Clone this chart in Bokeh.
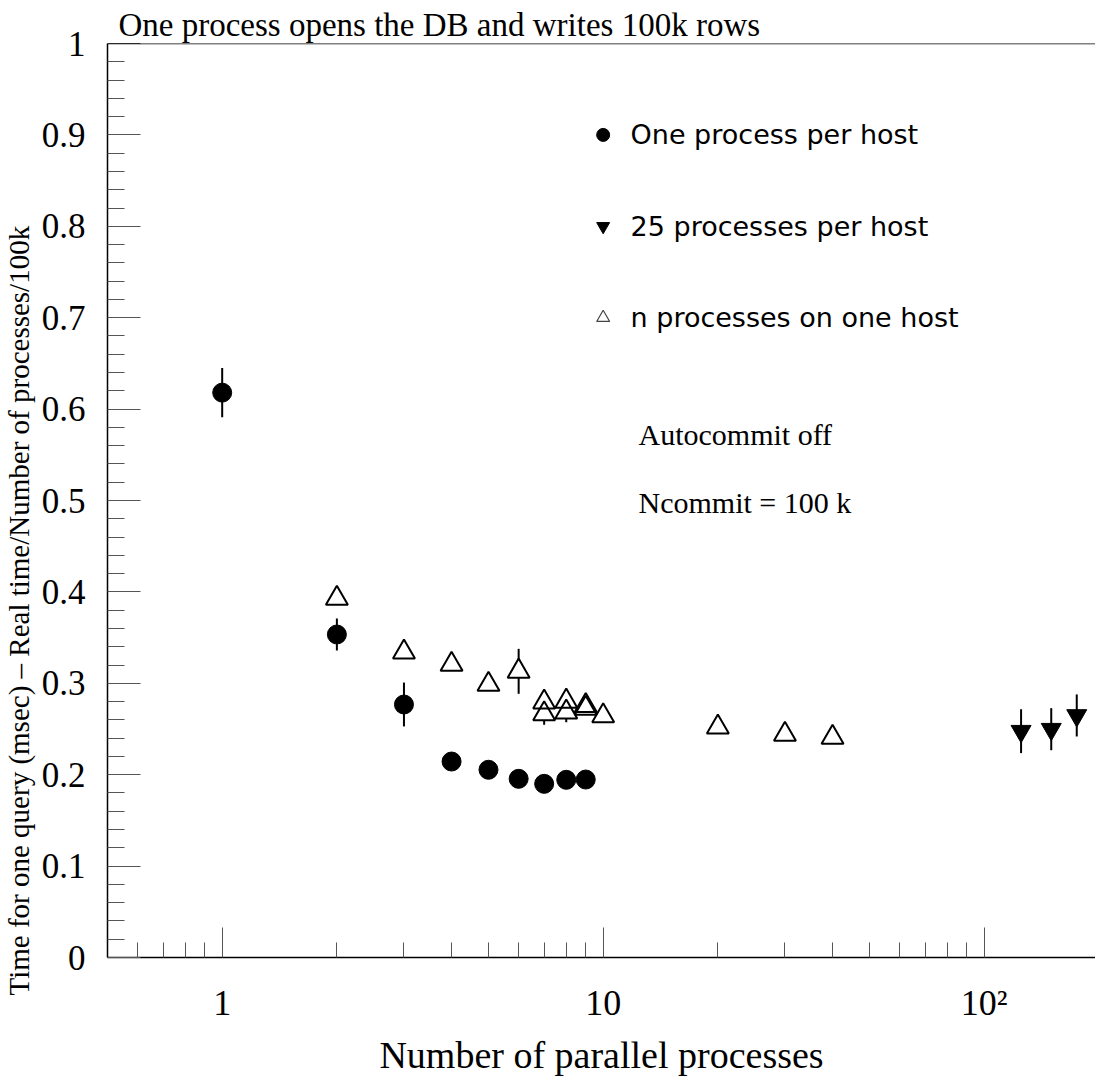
from bokeh.plotting import figure
from bokeh.models import Range1d, FixedTicker, Label, Span, Title
from bokeh.embed import file_html
from bokeh.resources import INLINE

# ---------------- data ----------------
title_text = "One process opens the DB and writes 100k rows"
x_label = "Number of parallel processes"
y_label = "Time for one query (msec) \u2013 Real time/Number of processes/100k"

# One process per host (filled circles)
one_x = [1, 2, 3, 4, 5, 6, 7, 8, 9]
one_y = [0.618, 0.3534, 0.2768, 0.2144, 0.2054, 0.1955, 0.1900, 0.1944, 0.1947]
one_err = [0.027, 0.0175, 0.024, 0, 0, 0, 0, 0, 0]

# n processes on one host (open triangles)
n_x = [2, 3, 4, 5, 6, 7, 7, 8, 8, 9, 9, 10, 20, 30, 40]
n_y = [0.3928, 0.334, 0.3206, 0.2987, 0.3131, 0.2793, 0.2666, 0.2803, 0.2684,
       0.2755, 0.2725, 0.2644, 0.2520, 0.2440, 0.2407]
n_err = [0, 0, 0, 0, 0.0246, 0, 0.012, 0, 0.011, 0, 0, 0, 0, 0, 0]

# 25 processes per host (filled down triangles)
many_x = [125, 150, 175]
many_y = [0.2476, 0.2498, 0.2648]
many_err = [0.024, 0.023, 0.023]

legend_labels = ["One process per host", "25 processes per host", "n processes on one host"]
legend_y = [0.9, 0.8, 0.7]
notes = ["Autocommit off", "Ncommit = 100 k"]
notes_y = [0.5722, 0.4978]

x_major = [1, 10, 100]
x_major_labels = ["1", "10", "10\u00b2"]
x_minor = [0.6, 0.7, 0.8, 0.9, 2, 3, 4, 5, 6, 7, 8, 9, 20, 30, 40, 50, 60, 70, 80, 90]
y_major = [0, 0.1, 0.2, 0.3, 0.4, 0.5, 0.6, 0.7, 0.8, 0.9, 1]
y_major_labels = ["0", "0.1", "0.2", "0.3", "0.4", "0.5", "0.6", "0.7", "0.8", "0.9", "1"]
y_minor = [0.02, 0.04, 0.06, 0.08, 0.12, 0.14, 0.16, 0.18, 0.22, 0.24, 0.26, 0.28,
           0.32, 0.34, 0.36, 0.38, 0.42, 0.44, 0.46, 0.48, 0.52, 0.54, 0.56, 0.58,
           0.62, 0.64, 0.66, 0.68, 0.72, 0.74, 0.76, 0.78, 0.82, 0.84, 0.86, 0.88,
           0.92, 0.94, 0.96, 0.98]

SERIF = "Liberation Serif"
SANS = "DejaVu Sans"

p = figure(width=1095, height=1080, x_axis_type="log",
           x_range=Range1d(0.5, 196), y_range=Range1d(0, 1),
           output_backend="svg", toolbar_location=None, title=None)
p.min_border_left = 107
p.min_border_right = 0
p.min_border_top = 43
p.min_border_bottom = 123
p.outline_line_color = None
p.xgrid.visible = False
p.ygrid.visible = False
p.background_fill_color = "white"
p.border_fill_color = "white"

# title above the frame
p.add_layout(Title(text=title_text, align="left", offset=11, standoff=2,
                   text_font=SERIF, text_font_size="33px", text_font_style="normal",
                   text_color="black", vertical_align="bottom"), "above")

# top frame line
p.add_layout(Span(location=1, dimension="width", line_color="black", line_width=1.5))

# axes
xa = p.xaxis[0]
xa.ticker = FixedTicker(ticks=x_major, minor_ticks=x_minor)
xa.major_label_overrides = {t: l for t, l in zip(x_major, x_major_labels)}
xa.axis_line_color = "black"
xa.axis_line_width = 1.5
xa.major_tick_in = 30
xa.major_tick_out = 0
xa.minor_tick_in = 15
xa.minor_tick_out = 0
xa.major_tick_line_color = "#555555"
xa.minor_tick_line_color = "#555555"
xa.major_label_standoff = 25
xa.major_label_text_font = SERIF
xa.major_label_text_font_size = "36px"
xa.major_label_text_color = "black"
xa.axis_label = x_label
xa.axis_label_text_font = SERIF
xa.axis_label_text_font_size = "38px"
xa.axis_label_text_font_style = "normal"
xa.axis_label_text_color = "black"
xa.axis_label_standoff = 8

ya = p.yaxis[0]
ya.ticker = FixedTicker(ticks=y_major, minor_ticks=y_minor)
ya.major_label_overrides = {t: l for t, l in zip(y_major, y_major_labels)}
ya.axis_line_color = "black"
ya.axis_line_width = 1.5
ya.major_tick_in = 33
ya.major_tick_out = 0
ya.minor_tick_in = 17
ya.minor_tick_out = 0
ya.major_tick_line_color = "#555555"
ya.minor_tick_line_color = "#555555"
ya.major_label_standoff = 22
ya.major_label_text_font = SERIF
ya.major_label_text_font_size = "35px"
ya.major_label_text_color = "black"

# y axis title, placed as a vertical title left of the tick labels
p.add_layout(Title(text=y_label, align="left", offset=-38, standoff=4,
                   text_font=SERIF, text_font_size="29px", text_font_style="normal",
                   text_color="black", vertical_align="top"), "left")

# error bars
def bars(xs, ys, es):
    sel = [(x, y, e) for x, y, e in zip(xs, ys, es) if e > 0]
    if sel:
        p.segment(x0=[s[0] for s in sel], y0=[s[1] - s[2] for s in sel],
                  x1=[s[0] for s in sel], y1=[s[1] + s[2] for s in sel],
                  line_color="black", line_width=2)

bars(one_x, one_y, one_err)
bars(n_x, n_y, n_err)
bars(many_x, many_y, many_err)

# markers
p.scatter(one_x, one_y, marker="circle", size=19, fill_color="black", line_color="black")
p.scatter(n_x, n_y, marker="triangle", size=22, fill_color="white", line_color=None)
p.scatter(n_x, n_y, marker="triangle", size=22, fill_color=None, line_color="black", line_width=2)
p.scatter(many_x, many_y, marker="inverted_triangle", size=20, fill_color="black", line_color="black")

# legend (drawn manually, like the original)
p.scatter([10], [legend_y[0]], marker="circle", size=13, fill_color="black", line_color="black")
p.scatter([10], [legend_y[1]], marker="inverted_triangle", size=13, fill_color="black", line_color="black")
p.scatter([10], [legend_y[2]], marker="triangle", size=13, fill_color=None, line_color="#444444", line_width=1.2)
for lab, ly in zip(legend_labels, legend_y):
    p.add_layout(Label(x=11.8, y=ly, text=lab, text_font=SANS, text_font_size="27px",
                       text_color="black", text_align="left", text_baseline="middle"))

for note, ny in zip(notes, notes_y):
    p.add_layout(Label(x=12.38, y=ny, text=note, text_font=SERIF, text_font_size="30px",
                       text_color="black", text_align="left", text_baseline="middle"))

open("out.html", "w").write(file_html(p, INLINE))
